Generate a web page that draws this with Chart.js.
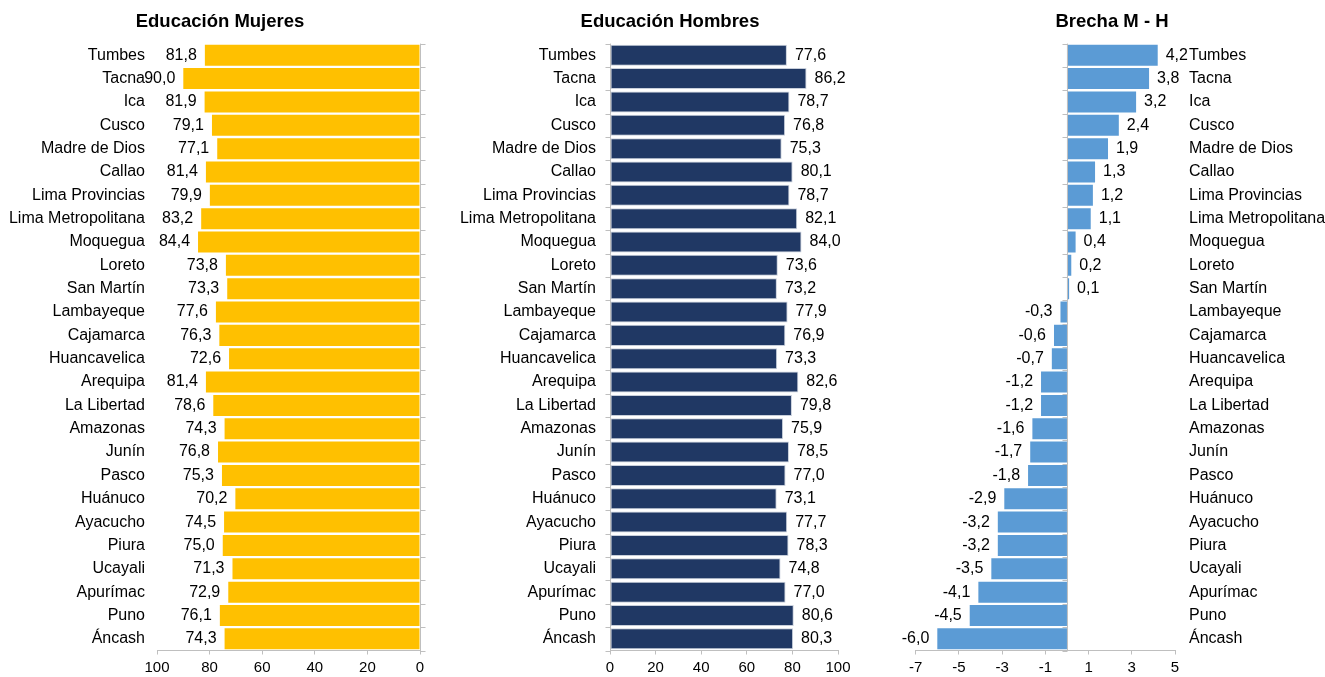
<!DOCTYPE html>
<html lang="es">
<head>
<meta charset="utf-8">
<title>Educación por región — Mujeres, Hombres y brecha</title>
<script src="https://cdn.jsdelivr.net/npm/chart.js@4.4.1/dist/chart.umd.min.js"></script>
<style>
    html, body { margin: 0; padding: 0; background: #fff; }
    .board { position: relative; width: 1325px; height: 677px; overflow: hidden; }
    .panel { position: absolute; top: 0; height: 677px; }
</style>
</head>
<body>
<div class="board">
    <div class="panel" style="left:0;width:440px"><canvas id="chartMujeres" width="440" height="677"></canvas></div>
    <div class="panel" style="left:450px;width:440px"><canvas id="chartHombres" width="440" height="677"></canvas></div>
    <div class="panel" style="left:880px;width:445px"><canvas id="chartBrecha" width="445" height="677"></canvas></div>
</div>
<script>
// Regions, top to bottom as they appear in every panel
const regiones = [
    'Tumbes', 'Tacna', 'Ica', 'Cusco', 'Madre de Dios', 'Callao', 'Lima Provincias',
    'Lima Metropolitana', 'Moquegua', 'Loreto', 'San Martín', 'Lambayeque', 'Cajamarca',
    'Huancavelica', 'Arequipa', 'La Libertad', 'Amazonas', 'Junín', 'Pasco', 'Huánuco',
    'Ayacucho', 'Piura', 'Ucayali', 'Apurímac', 'Puno', 'Áncash',
];

const mujeres = [
    81.8, 90.0, 81.9, 79.1, 77.1, 81.4, 79.9, 83.2, 84.4, 73.8, 73.3, 77.6, 76.3,
    72.6, 81.4, 78.6, 74.3, 76.8, 75.3, 70.2, 74.5, 75.0, 71.3, 72.9, 76.1, 74.3,
];

const hombres = [
    77.6, 86.2, 78.7, 76.8, 75.3, 80.1, 78.7, 82.1, 84.0, 73.6, 73.2, 77.9, 76.9,
    73.3, 82.6, 79.8, 75.9, 78.5, 77.0, 73.1, 77.7, 78.3, 74.8, 77.0, 80.6, 80.3,
];

const brecha = [
    4.2, 3.8, 3.2, 2.4, 1.9, 1.3, 1.2, 1.1, 0.4, 0.2, 0.1, -0.3, -0.6,
    -0.7, -1.2, -1.2, -1.6, -1.7, -1.8, -2.9, -3.2, -3.2, -3.5, -4.1, -4.5, -6.0,
];

const ticksEducacion = [0, 20, 40, 60, 80, 100];
const ticksBrecha = [-7, -5, -3, -1, 1, 3, 5];

const AXIS_COLOR = '#bfbfbf';
const FONT = '"Liberation Sans", Arial, Helvetica, sans-serif';

Chart.defaults.font.family = FONT;
Chart.defaults.color = '#000';

const fmt = v => v.toFixed(1).replace('.', ',');

// Value labels just outside the end of each bar
const valueLabels = {
    id: 'valueLabels',
    afterDatasetsDraw(chart) {
        const { ctx } = chart;
        const meta = chart.getDatasetMeta(0);
        const values = chart.data.datasets[0].data;
        ctx.save();
        ctx.font = `16px ${FONT}`;
        ctx.fillStyle = '#000';
        ctx.textBaseline = 'middle';
        meta.data.forEach((bar, i) => {
            const out = bar.x >= bar.base ? 1 : -1;
            ctx.textAlign = out > 0 ? 'left' : 'right';
            ctx.fillText(fmt(values[i]), bar.x + out * 8, bar.y);
        });
        ctx.restore();
    },
};

// Category axis line drawn at value 0, with small ticks between categories
const zeroAxis = {
    id: 'zeroAxis',
    afterDatasetsDraw(chart, args, opts) {
        const { ctx, chartArea, scales } = chart;
        const px = Math.round(scales.x.getPixelForValue(0)) + 0.5;
        const n = chart.data.labels.length;
        const step = (chartArea.bottom - chartArea.top) / n;
        ctx.save();
        ctx.strokeStyle = AXIS_COLOR;
        ctx.lineWidth = 1;
        ctx.beginPath();
        ctx.moveTo(px, chartArea.top);
        ctx.lineTo(px, chartArea.bottom);
        for (let i = 0; i <= n; i++) {
            const py = Math.round(chartArea.top + i * step) + 0.5;
            ctx.moveTo(px, py);
            ctx.lineTo(px + opts.dir * 5, py);
        }
        ctx.stroke();
        ctx.restore();
    },
};

// Panel title, centred on a fixed x so it does not depend on the layout padding
const panelTitle = {
    id: 'panelTitle',
    afterDraw(chart, args, opts) {
        const { ctx } = chart;
        ctx.save();
        ctx.font = `bold 18.5px ${FONT}`;
        ctx.fillStyle = '#000';
        ctx.textAlign = 'center';
        ctx.textBaseline = 'middle';
        ctx.fillText(opts.text, opts.x, 21.5);
        ctx.restore();
    },
};

function makeChart(id, cfg) {
    return new Chart(document.getElementById(id), {
        type: 'bar',
        data: {
            labels: regiones,
            datasets: [{
                data: cfg.values,
                backgroundColor: cfg.color,
                borderColor: cfg.border || cfg.color,
                borderWidth: cfg.border ? 1 : 0,
                borderSkipped: false,
                barPercentage: 0.9,
                categoryPercentage: 1,
            }],
        },
        options: {
            indexAxis: 'y',
            responsive: false,
            animation: false,
            layout: { padding: { top: 43.6, bottom: 0, left: cfg.padLeft, right: cfg.padRight } },
            plugins: {
                legend: { display: false },
                tooltip: { enabled: false },
                title: { display: false },
                panelTitle: { text: cfg.title, x: cfg.titleX },
                zeroAxis: { dir: cfg.tickDir },
            },
            scales: {
                x: {
                    min: cfg.ticks[0],
                    max: cfg.ticks[cfg.ticks.length - 1],
                    reverse: !!cfg.reverse,
                    afterBuildTicks: s => { s.ticks = cfg.ticks.map(v => ({ value: v })); },
                    afterFit: s => { s.height = 26.5; },
                    grid: { drawOnChartArea: false, drawTicks: true, tickLength: 4, color: AXIS_COLOR },
                    border: { display: true, color: AXIS_COLOR },
                    ticks: { font: { size: 15 }, padding: 4, maxRotation: 0, autoSkip: false },
                },
                y: {
                    position: cfg.yPos,
                    afterFit: s => { s.width = cfg.yWidth; },
                    grid: { display: false, drawTicks: false },
                    border: { display: false },
                    ticks: { font: { size: 16 }, padding: cfg.yPad, autoSkip: false },
                },
            },
        },
        plugins: [valueLabels, zeroAxis, panelTitle],
    });
}

makeChart('chartMujeres', {
    title: 'Educación Mujeres', titleX: 220,
    values: mujeres,
    color: '#ffc000',
    ticks: ticksEducacion,
    reverse: true,
    padLeft: 0, padRight: 20,
    yPos: 'left', yWidth: 157, yPad: 12,
    tickDir: 1,
});

makeChart('chartHombres', {
    title: 'Educación Hombres', titleX: 220,
    values: hombres,
    color: '#203864',
    border: '#c8cfdb',
    ticks: ticksEducacion,
    padLeft: 0, padRight: 52,
    yPos: 'left', yWidth: 160, yPad: 14,
    tickDir: -1,
});

makeChart('chartBrecha', {
    title: 'Brecha M - H', titleX: 232,
    values: brecha,
    color: '#5b9bd5',
    ticks: ticksBrecha,
    padLeft: 35.7, padRight: 0,
    yPos: 'right', yWidth: 150, yPad: 14,
    tickDir: -1,
});
</script>
</body>
</html>
